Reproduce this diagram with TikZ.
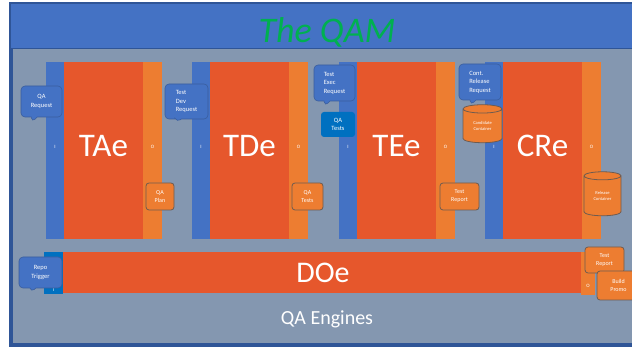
\documentclass[tikz,border=0pt]{standalone}
\usepackage{fontspec}
\setmainfont{Carlito}
\usetikzlibrary{shapes.geometric,shapes.callouts}
\definecolor{hdrblue}{HTML}{4472C4}
\definecolor{frameblue}{HTML}{2F5597}
\definecolor{panelgray}{HTML}{8497B0}
\definecolor{engred}{HTML}{E6572C}
\definecolor{outorange}{HTML}{ED7D31}
\definecolor{inblue}{HTML}{4472C4}
\definecolor{deepblue}{HTML}{0070C0}
\definecolor{titlegreen}{HTML}{00B050}
\definecolor{boxedge}{HTML}{6E5B50}
\definecolor{bubbleedge}{HTML}{3A5E9E}

\begin{document}
\begin{tikzpicture}[x=1pt,y=-1pt,
    bar/.style={anchor=north west,inner sep=0pt,minimum height=177pt},
    inbar/.style={bar,fill=inblue,minimum width=18pt},
    engbar/.style={bar,fill=engred,minimum width=79pt},
    outbar/.style={bar,fill=outorange,minimum width=19pt},
    engname/.style={text=white,inner sep=0pt,font=\fontsize{33}{33}\selectfont},
    port/.style={text=white,inner sep=0pt,font=\fontsize{5}{5}\selectfont},
    bubble/.style={rectangle callout,fill=inblue,draw=bubbleedge,line
        width=.6pt,rounded corners=4pt,text=white,inner sep=1pt,
        callout pointer width=6pt,font=\fontsize{6.5}{8.5}\selectfont},
    artbox/.style={fill=outorange,draw=boxedge,line width=.8pt,rounded
        corners=3pt,text=white,inner sep=1pt,align=center,
        font=\fontsize{6}{8}\selectfont},
    store/.style={cylinder,shape border rotate=90,aspect=.45,
        fill=outorange,draw=boxedge,line width=.8pt,text=white,inner
        sep=0pt,align=center,font=\fontsize{4.5}{6}\selectfont}]

    \useasboundingbox (0,0) rectangle (632,347);

    % the frame

    \fill[frameblue] (9,2) rectangle (632,347);
    \fill[hdrblue] (11,4) rectangle (632,48);
    \fill[panelgray] (13,49) rectangle (632,343);

    \node[text=titlegreen,font=\fontsize{36}{36}\selectfont\itshape]
    (title) at (327,32) {The QAM};

    % the engines

    \node[inbar] (tain) at (46,62) {};
    \node[engbar] (tabody) at (64,62) {};
    \node[outbar] (taout) at (143,62) {};

    \node[inbar] (tdin) at (192,62) {};
    \node[engbar] (tdbody) at (210,62) {};
    \node[outbar] (tdout) at (289,62) {};

    \node[inbar] (tein) at (339,62) {};
    \node[engbar] (tebody) at (357,62) {};
    \node[outbar] (teout) at (436,62) {};

    \node[inbar] (crin) at (485,62) {};
    \node[engbar] (crbody) at (503,62) {};
    \node[outbar] (crout) at (582,62) {};

    \node[bar,fill=deepblue,minimum width=19pt,minimum height=42pt]
    (doin) at (44,252) {};
    \node[bar,fill=engred,minimum width=518pt,minimum height=41pt]
    (dobody) at (63,252) {};
    \node[bar,fill=outorange,minimum width=14pt,minimum height=43pt]
    (doout) at (581,252) {};

    % the texts

    \node[engname] (taname) at (103.5,146) {TAe};
    \node[engname] (tdname) at (249.5,146) {TDe};
    \node[engname] (tename) at (396.5,146) {TEe};
    \node[engname] (crname) at (542.5,146) {CRe};
    \node[engname,font=\fontsize{30}{30}\selectfont] (doname) at
    (323,273) {DOe};
    \node[text=white,font=\fontsize{20}{20}\selectfont] (engines) at
    (327,319) {QA Engines};

    \node[port] (tai) at (55,147) {I};
    \node[port] (tao) at (152.5,147) {O};
    \node[port] (tdi) at (201,147) {I};
    \node[port] (tdo) at (298.5,147) {O};
    \node[port] (tei) at (348,147) {I};
    \node[port] (teo) at (445.5,147) {O};
    \node[port] (cri) at (494,147) {I};
    \node[port] (cro) at (591.5,147) {O};
    \node[port] (doi) at (53.5,290) {I};
    \node[port] (doo) at (588,286) {O};

    % the requests and artefacts

    \node[bubble,minimum width=41pt,minimum height=31pt,align=center,
    callout absolute pointer={(32,122)}] (qareq) at (41.5,101.5)
    {QA\\Request};
    \node[bubble,minimum width=43pt,minimum height=35pt,align=left,
    callout absolute pointer={(177,122)}] (devreq) at (186.5,101.5)
    {Test\\Dev\\Request};
    \node[bubble,minimum width=41pt,minimum height=36pt,align=left,
    callout absolute pointer={(325,106)}] (execreq) at (334.5,83)
    {Test\\Exec\\Request};
    \node[bubble,minimum width=42pt,minimum height=36pt,align=left,
    callout absolute pointer={(471,105)}] (relreq) at (480,82)
    {Cont.\\Release\\Request};
    \node[bubble,minimum width=43pt,minimum height=31pt,align=center,
    callout absolute pointer={(31,292)}] (repotrig) at (40.5,272.5)
    {Repo\\Trigger};

    \node[fill=deepblue,rounded corners=3pt,text=white,inner sep=1pt,
    align=center,minimum width=34pt,minimum height=25pt,
    font=\fontsize{6.5}{8.5}\selectfont] (qatestsin) at (338,124.5)
    {QA\\Tests};

    \node[artbox,minimum width=28pt,minimum height=27pt] (qaplan) at
    (160,196.5) {QA\\Plan};
    \node[artbox,minimum width=31pt,minimum height=27pt] (qatests) at
    (307.5,196.5) {QA\\Tests};
    \node[artbox,minimum width=39pt,minimum height=27pt] (tereport) at
    (459.5,196.5) {Test\\Report};
    \node[artbox,minimum width=39pt,minimum height=26pt] (doreport) at
    (604.5,260) {Test\\Report};
    \node[artbox,minimum width=43pt,minimum height=29pt] (promo) at
    (618.5,285.5) {Build\\Promo};

    \node[store,minimum width=39pt,minimum height=38pt] (candidate) at
    (482.5,126) {Candidate\\Container};
    \node[store,minimum width=37pt,minimum height=44pt] (release) at
    (602.5,196) {Release\\Container};
  \end{tikzpicture}
\end{document}
